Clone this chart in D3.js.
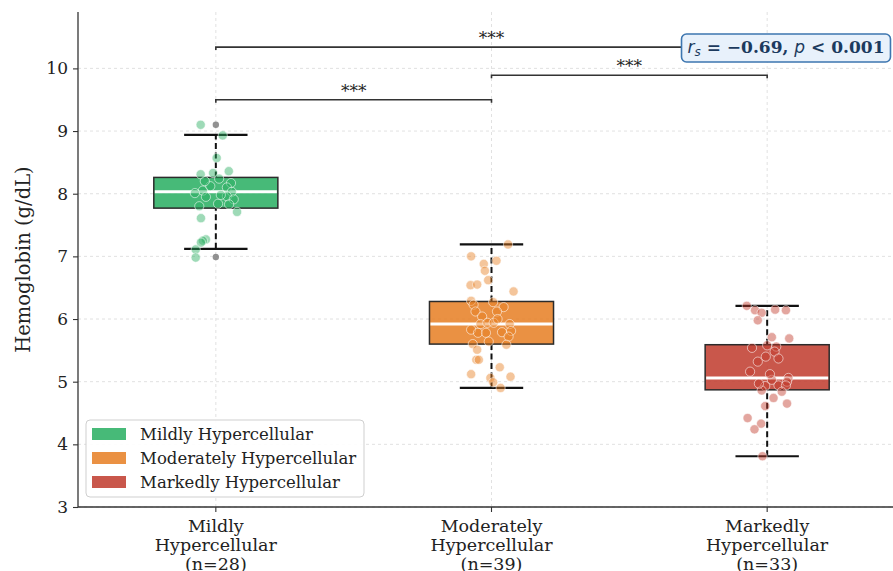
<!DOCTYPE html>
<html><head><meta charset="utf-8">
<script src="https://cdn.jsdelivr.net/npm/d3@7/dist/d3.min.js"></script>
<style>body{margin:0;background:#fff}svg{display:block}</style>
</head><body>
<script>
const categories = ["Mildly Hypercellular", "Moderately Hypercellular", "Markedly Hypercellular"];
const tickLines = [["Mildly","Hypercellular","(n=28)"],["Moderately","Hypercellular","(n=39)"],["Markedly","Hypercellular","(n=33)"]];
const colors = ["#27ae60", "#e67e22", "#c0392b"];
const yTicks = [3,4,5,6,7,8,9,10];
// box statistics
const q1 = [7.77, 5.60, 4.87];
const med = [8.03, 5.92, 5.06];
const q3 = [8.26, 6.28, 5.59];
const whLo = [7.12, 4.90, 3.81];
const whHi = [8.94, 7.19, 6.21];
const fliers = [[9.10, 6.99], [], []];
// individual observations (value, horizontal jitter in category units)
const mildVals = [9.10,8.93,8.57,8.31,8.33,8.36,8.24,8.17,8.10,8.05,8.01,8.03,7.95,7.96,7.91,7.80,7.84,7.83,7.71,7.61,7.27,7.25,7.22,7.11,6.98,8.12,7.98,8.20];
const mildJit = [-0.055,0.025,0.003,-0.055,-0.01,0.047,0.012,0.055,0.04,-0.047,-0.076,0.058,-0.036,0.04,0.065,-0.06,0.008,0.048,0.077,-0.054,-0.036,-0.047,-0.054,-0.073,-0.073,-0.02,0.018,-0.04];
const modVals = [7.19,7.00,6.88,6.93,6.77,6.62,6.54,6.55,6.44,6.29,6.23,6.27,6.19,6.12,6.12,6.04,5.92,5.94,5.94,5.92,5.83,5.78,5.78,5.79,5.81,5.72,5.64,5.60,5.59,5.51,5.35,5.35,5.23,5.12,5.08,5.06,4.99,4.90,6.00];
const modJit = [0.06,-0.074,-0.028,0.018,-0.024,-0.012,-0.076,-0.052,0.08,-0.074,-0.065,0.006,0.044,0.02,-0.058,-0.034,-0.04,-0.015,0.008,0.066,-0.074,-0.049,-0.02,0.038,0.071,0.062,-0.01,-0.068,0.054,-0.052,-0.055,-0.046,0.03,-0.074,0.069,-0.004,0.006,0.033,0.022];
const markVals = [6.21,6.14,6.10,6.15,6.14,5.98,5.71,5.69,5.54,5.58,5.56,5.48,5.37,5.32,5.16,5.06,5.03,5.00,4.93,4.94,4.94,4.86,4.84,4.74,4.61,4.65,4.42,4.33,4.24,3.81,5.12,4.97,5.40];
const markJit = [-0.074,-0.044,-0.02,0.029,0.068,-0.034,0.017,0.08,-0.055,0.0,0.033,0.027,0.041,-0.034,-0.062,0.077,0.017,0.072,-0.007,0.041,0.068,-0.02,0.053,0.023,-0.007,0.072,-0.071,-0.022,-0.046,-0.017,0.01,-0.03,-0.005];
// significance brackets: [from, to, height]
const brFrom = [0, 1, 0];
const brTo = [1, 2, 2];
const brY = [9.5, 9.89, 10.34];
const brText = ["***","***","***"];

const W = 893, H = 571;
const svg = d3.select("body").append("svg").attr("width", W).attr("height", H);
const x = d3.scaleLinear().domain([-0.5, 2.5]).range([78, 905]);
const y = d3.scaleLinear().domain([3, 10.9]).range([507, 12]);
const serif = "'DejaVu Serif', serif";

// grid
const grid = svg.append("g").attr("stroke", "#d9d9d9").attr("stroke-width", 0.8).attr("stroke-dasharray", "3,3");
yTicks.forEach(t => grid.append("line").attr("x1", x(-0.5)).attr("x2", W).attr("y1", y(t)).attr("y2", y(t)));
categories.forEach((c, i) => grid.append("line").attr("x1", x(i)).attr("x2", x(i)).attr("y1", y(10.9)).attr("y2", y(3)));

// boxes
const bw = 0.45, cw = 0.115;
categories.forEach((c, i) => {
  const g = svg.append("g");
  g.append("line").attr("x1", x(i)).attr("x2", x(i)).attr("y1", y(whLo[i])).attr("y2", y(q1[i]))
    .attr("stroke", "#111").attr("stroke-width", 2).attr("stroke-dasharray", "6,3.5");
  g.append("line").attr("x1", x(i)).attr("x2", x(i)).attr("y1", y(q3[i])).attr("y2", y(whHi[i]))
    .attr("stroke", "#111").attr("stroke-width", 2).attr("stroke-dasharray", "6,3.5");
  [whLo[i], whHi[i]].forEach(v => g.append("line").attr("x1", x(i - cw)).attr("x2", x(i + cw))
    .attr("y1", y(v)).attr("y2", y(v)).attr("stroke", "#111").attr("stroke-width", 2.2));
  g.append("rect").attr("x", x(i - bw/2)).attr("width", x(i + bw/2) - x(i - bw/2))
    .attr("y", y(q3[i])).attr("height", y(q1[i]) - y(q3[i]))
    .attr("fill", colors[i]).attr("fill-opacity", 0.85).attr("stroke", "#2b2b2b").attr("stroke-width", 1.5);
  g.append("line").attr("x1", x(i - bw/2) + 1).attr("x2", x(i + bw/2) - 1).attr("y1", y(med[i])).attr("y2", y(med[i]))
    .attr("stroke", "#fff").attr("stroke-width", 3);
  fliers[i].forEach(v => g.append("circle").attr("cx", x(i)).attr("cy", y(v)).attr("r", 3.2).attr("fill", "#777").attr("fill-opacity", 0.8));
});

// points
const groups = [[mildVals, mildJit], [modVals, modJit], [markVals, markJit]];
groups.forEach(([vals, jit], i) => {
  svg.append("g").selectAll("circle").data(vals).join("circle")
    .attr("cx", (d, k) => x(i + jit[k])).attr("cy", d => y(d)).attr("r", 4.6)
    .attr("fill", colors[i]).attr("fill-opacity", 0.45)
    .attr("stroke", "#fff").attr("stroke-opacity", 0.7).attr("stroke-width", 0.8);
});

// axes
const yAxis = svg.append("g").attr("transform", `translate(${x(-0.5)},0)`)
  .call(d3.axisLeft(y).tickValues(yTicks).tickSize(5).tickPadding(5).tickFormat(d3.format("d")));
yAxis.select(".domain").remove();
yAxis.selectAll(".tick line").attr("stroke", "#333").attr("stroke-width", 1.1);
yAxis.selectAll("text").attr("font-family", serif).attr("font-size", 17).attr("fill", "#222");
svg.append("line").attr("x1", x(-0.5)).attr("x2", x(-0.5)).attr("y1", y(10.9)).attr("y2", y(3))
  .attr("stroke", "#333").attr("stroke-width", 1.3);
svg.append("line").attr("x1", x(-0.5)).attr("x2", W).attr("y1", y(3)).attr("y2", y(3))
  .attr("stroke", "#333").attr("stroke-width", 1.3);
categories.forEach((c, i) => {
  svg.append("line").attr("x1", x(i)).attr("x2", x(i)).attr("y1", y(3)).attr("y2", y(3) + 5).attr("stroke", "#333").attr("stroke-width", 1.1);
  const t = svg.append("text").attr("font-family", serif).attr("font-size", 17.5).attr("fill", "#222").attr("text-anchor", "middle");
  tickLines[i].forEach((l, k) => t.append("tspan").attr("x", x(i)).attr("y", y(3) + 25 + k * 19).text(l));
});
svg.append("text").attr("transform", `translate(30,${(y(3)+y(10.9))/2}) rotate(-90)`)
  .attr("text-anchor", "middle").attr("font-family", serif).attr("font-size", 19.5).attr("fill", "#222")
  .text("Hemoglobin (g/dL)");

// brackets
brY.forEach((b, k) => {
  const yy = y(b), x1 = x(brFrom[k]), x2 = x(brTo[k]);
  svg.append("path").attr("d", `M${x1},${yy+3}V${yy}H${x2}V${yy+3}`).attr("fill", "none")
    .attr("stroke", "#333").attr("stroke-width", 1.6);
  svg.append("text").attr("x", (x1 + x2) / 2).attr("y", yy - 3).attr("text-anchor", "middle")
    .attr("font-family", serif).attr("font-size", 17).attr("fill", "#222").text(brText[k]);
});

// annotation
const ag = svg.append("g");
const at = ag.append("text").attr("x", 786).attr("y", 53).attr("text-anchor", "middle").attr("fill", "#1c3a5e").attr("font-size", 17);
at.append("tspan").attr("font-family", "'DejaVu Sans', sans-serif").attr("font-style", "italic").text("r");
at.append("tspan").attr("font-family", "'DejaVu Sans', sans-serif").attr("font-style", "italic").attr("font-size", 12).attr("dy", 3).text("s");
at.append("tspan").attr("font-family", serif).attr("font-weight", "bold").attr("dy", -3).text(" = −0.69, ");
at.append("tspan").attr("font-family", "'DejaVu Sans', sans-serif").attr("font-style", "italic").text("p");
at.append("tspan").attr("font-family", serif).attr("font-weight", "bold").text(" < 0.001");
const bb = at.node().getBBox();
ag.insert("rect", "text").attr("x", bb.x - 6).attr("y", 34).attr("width", bb.width + 12).attr("height", 28)
  .attr("rx", 5).attr("fill", "#e8f1fb").attr("stroke", "#3d76b0").attr("stroke-width", 1.6);

// legend
const lg = svg.append("g");
lg.append("rect").attr("x", 86).attr("y", 420).attr("width", 278).attr("height", 77).attr("rx", 4)
  .attr("fill", "#fff").attr("fill-opacity", 0.9).attr("stroke", "#cfcfcf").attr("stroke-width", 1);
categories.forEach((c, i) => {
  const yy = 434 + i * 24;
  lg.append("rect").attr("x", 92).attr("y", yy - 6).attr("width", 34).attr("height", 12)
    .attr("fill", colors[i]).attr("fill-opacity", 0.85);
  lg.append("text").attr("x", 140).attr("y", yy + 5.5).attr("font-family", serif).attr("font-size", 16.5).attr("fill", "#222").text(c);
});
</script>
</body></html>
